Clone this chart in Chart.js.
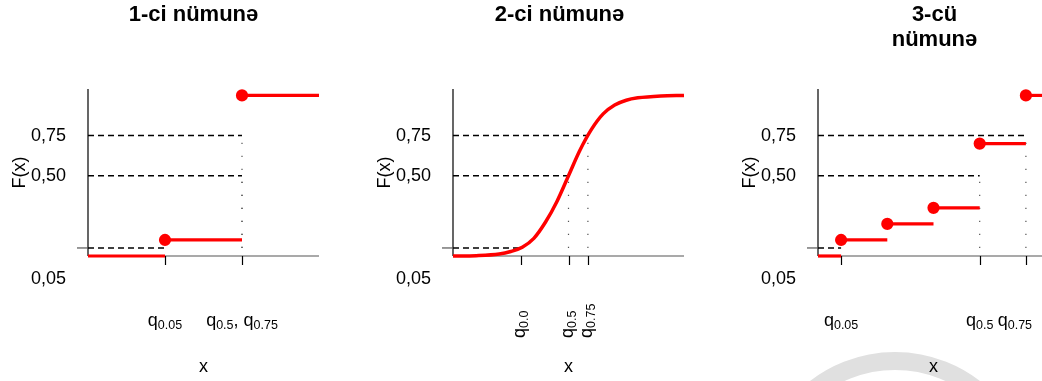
<!DOCTYPE html>
<html>
<head>
<meta charset="utf-8">
<script src="https://cdn.jsdelivr.net/npm/chart.js@4.4.1/dist/chart.umd.min.js"></script>
<style>
  html, body { margin:0; padding:0; background:#fff; width:1042px; height:381px; overflow:hidden; position:relative; }
  .panel { position:absolute; top:0; width:365px; height:381px; }
  .mark { position:absolute; left:756px; top:352px; width:278px; height:278px; box-sizing:border-box; border:18px solid #e0e0e0; border-radius:50%; }
</style>
</head>
<body>
<div class="mark"></div>
<canvas id="c1" class="panel" width="365" height="381" style="left:0"></canvas>
<canvas id="c2" class="panel" width="365" height="381" style="left:365px"></canvas>
<canvas id="c3" class="panel" width="365" height="381" style="left:730px"></canvas>
<script>
/* ── DATA ── */
const TITLES = [['1-ci nümunə'], ['2-ci nümunə'], ['3-cü', 'nümunə']];
const Y_LEVELS = [0.05, 0.5, 0.75];
const Y_LABELS = ['0,05', '0,50', '0,75'];

// 1-ci nümunə: step function
const S1_FROM = [0, 1, 2];
const S1_TO   = [1, 2, 3];
const S1_F    = [0, 0.1, 1];
const S1_Q    = [1, 2, 2];          // x of q0.05, q0.5, q0.75
const S1_TICKS = [1, 2];
const S1_TICK_LABELS = [['q', '0.05'], ['q', '0.5', ', q', '0.75']];

// 2-ci nümunə: smooth curve
const S2_X = [0, 1, 2, 2.5, 3, 3.5, 4, 4.5, 5, 5.5, 6, 6.5, 7, 7.5, 8, 9, 10];
const S2_F = [0, 0.002, 0.012, 0.028, 0.055, 0.11, 0.21, 0.34, 0.5, 0.66, 0.79, 0.885, 0.94, 0.97, 0.985, 0.997, 1];
const S2_Q = [2.93, 5.0, 5.84];
const S2_TICKS = [2.93, 5.0, 5.84];
const S2_TICK_LABELS = [['q', '0.0'], ['q', '0.5'], ['q', '0.75']];

// 3-cü nümunə: step function
const S3_FROM = [0.5, 1, 2, 3, 4, 5];
const S3_TO   = [1, 2, 3, 4, 5, 5.5];
const S3_F    = [0, 0.1, 0.2, 0.3, 0.7, 1];
const S3_Q    = [1, 4, 5];
const S3_TICKS = [1, 4, 5];
const S3_TICK_LABELS = [['q', '0.05'], ['q', '0.5'], ['q', '0.75']];

/* ── STYLE ── */
const RED = '#ff0000';
const FONT = "'Liberation Sans', Arial, sans-serif";
const LOW_LABEL_DROP = 31;

/* ── HELPERS ── */
function seg(ctx, x1, y1, x2, y2) {
  ctx.beginPath();
  ctx.moveTo(x1, y1);
  ctx.lineTo(x2, y2);
  ctx.stroke();
}

// runs: even index = normal text, odd index = subscript
function runsWidth(ctx, runs) {
  let w = 0;
  runs.forEach((r, i) => {
    ctx.font = (i % 2 ? '12.5px ' : '18px ') + FONT;
    w += ctx.measureText(r).width;
  });
  return w;
}
function drawRuns(ctx, runs, x, y) {
  let cx = x;
  runs.forEach((r, i) => {
    ctx.font = (i % 2 ? '12.5px ' : '18px ') + FONT;
    ctx.fillText(r, cx, i % 2 ? y + 3 : y);
    cx += ctx.measureText(r).width;
  });
}

function stepSets(from, to, f) {
  return f.map((v, i) => ({
    data: [{ x: from[i], y: v }, { x: to[i], y: v }],
    borderColor: RED,
    backgroundColor: RED,
    borderWidth: 3.2,
    pointRadius: [v > 0 ? 4.5 : 0, 0],
    order: 1
  }));
}

function guideSets(xmin, q) {
  const sets = Y_LEVELS.map((lv, i) => ({
    data: [{ x: xmin, y: lv }, { x: q[i], y: lv }],
    borderColor: '#000',
    borderWidth: 1.4,
    borderDash: [6, 4],
    pointRadius: 0,
    order: 2
  }));
  [1, 2].forEach(i => sets.push({
    data: [{ x: q[i], y: Y_LEVELS[0] }, { x: q[i], y: Y_LEVELS[i] }],
    borderColor: '#555',
    borderWidth: 1.2,
    borderDash: [1.2, 11.8],
    pointRadius: 0,
    order: 2
  }));
  return sets;
}

/* ── AXES + TEXT PLUGIN ── */
function makeFrame(cfg) {
  return {
    id: 'frame',
    beforeDatasetsDraw(chart) {
      const { ctx, chartArea: a, scales: { x, y } } = chart;
      ctx.save();
      ctx.lineWidth = 1.2;
      ctx.strokeStyle = '#000';
      seg(ctx, a.left, a.top, a.left, a.bottom);
      ctx.strokeStyle = '#555';
      seg(ctx, a.left, a.bottom, a.right, a.bottom);
      ctx.strokeStyle = '#000';
      cfg.ticks.forEach(t => {
        const px = Math.round(x.getPixelForValue(t)) + 0.5;
        seg(ctx, px, a.bottom, px, a.bottom + 9);
      });
      const py = y.getPixelForValue(Y_LEVELS[0]);
      ctx.strokeStyle = '#555';
      seg(ctx, a.left - 11, py, a.left, py);
      ctx.restore();
    },
    afterDraw(chart) {
      const { ctx, chartArea: a, scales: { x, y } } = chart;
      ctx.save();
      ctx.fillStyle = '#000';

      // title
      ctx.font = 'bold 22px ' + FONT;
      ctx.textAlign = 'center';
      ctx.textBaseline = 'middle';
      cfg.title.forEach((t, i) => {
        ctx.fillText(t, (a.left + a.right) / 2 + (cfg.titleShift || 0), 15 + 25 * i);
      });

      ctx.font = '18px ' + FONT;

      // y labels
      ctx.textAlign = 'right';
      Y_LEVELS.forEach((lv, i) => {
        const py = y.getPixelForValue(lv) + (i === 0 ? LOW_LABEL_DROP : 0);
        ctx.fillText(Y_LABELS[i], a.left - 22, py);
      });

      // axis titles
      ctx.textAlign = 'center';
      ctx.fillText('x', (a.left + a.right) / 2, a.bottom + 111);
      ctx.save();
      ctx.translate(a.left - 68, (a.top + a.bottom) / 2);
      ctx.rotate(-Math.PI / 2);
      ctx.fillText('F(x)', 0, 0);
      ctx.restore();

      // tick labels
      ctx.textAlign = 'left';
      ctx.textBaseline = 'alphabetic';
      cfg.ticks.forEach((t, i) => {
        const runs = cfg.labels[i];
        const px = x.getPixelForValue(t);
        const w = runsWidth(ctx, runs);
        if (cfg.rotate) {
          ctx.save();
          ctx.translate(px + 4, a.bottom + 82);
          ctx.rotate(-Math.PI / 2);
          drawRuns(ctx, runs, 0, 0);
          ctx.restore();
        } else {
          const shift = cfg.shift ? cfg.shift[i] : 0;
          drawRuns(ctx, runs, px - w / 2 + shift, a.bottom + 70);
        }
      });
      ctx.restore();
    }
  };
}

/* ── CHART BUILDER ── */
function buildPanel(id, datasets, xmin, xmax, frameCfg) {
  new Chart(document.getElementById(id), {
    type: 'line',
    data: { datasets },
    options: {
      responsive: false,
      animation: false,
      devicePixelRatio: 1,
      layout: { padding: { left: 88, right: 46, top: 89, bottom: 125 }, autoPadding: false },
      scales: {
        x: { type: 'linear', display: false, min: xmin, max: xmax },
        y: { display: false, min: 0, max: 1.04 }
      },
      datasets: { line: { clip: false } },
      elements: {
        line: { tension: 0, fill: false },
        point: { borderWidth: 0 }
      },
      plugins: {
        legend: { display: false },
        tooltip: { enabled: false },
        title: { display: false }
      }
    },
    plugins: [makeFrame(frameCfg)]
  });
}

/* ── INIT ── */
buildPanel('c1',
  [...stepSets(S1_FROM, S1_TO, S1_F), ...guideSets(0, S1_Q)],
  0, 3, { title: TITLES[0], titleShift: -10, ticks: S1_TICKS, labels: S1_TICK_LABELS });

buildPanel('c2',
  [{
    data: S2_X.map((v, i) => ({ x: v, y: S2_F[i] })),
    borderColor: RED,
    borderWidth: 3.5,
    pointRadius: 0,
    cubicInterpolationMode: 'monotone',
    order: 1
  }, ...guideSets(0, S2_Q)],
  0, 10, { title: TITLES[1], titleShift: -9, ticks: S2_TICKS, labels: S2_TICK_LABELS, rotate: true });

buildPanel('c3',
  [...stepSets(S3_FROM, S3_TO, S3_F), ...guideSets(0.5, S3_Q)],
  0.5, 5.5, { title: TITLES[2], titleShift: 1, ticks: S3_TICKS, labels: S3_TICK_LABELS, shift: [0, 0, -11] });
</script>
</body>
</html>
